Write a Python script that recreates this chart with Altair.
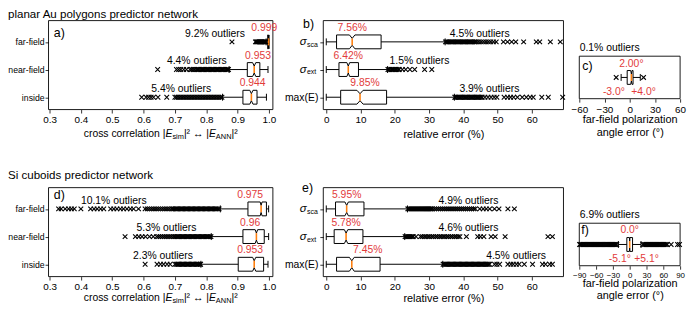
import altair as alt
import pandas as pd

FONT = "Liberation Sans"
RED = "#e23b3b"
ORANGE = "#ff7f0e"
INK = "black"
W, H = 689, 299
XSHAPE = "M-1,-1L1,1M-1,1L1,-1"

# ---------------- shared categories / ticks ----------------
ROW_POS = [3, 2, 1]
FIELD_ROWS = ["far-field", "near-field", "inside"]
ERR_SUBS = ["sca", "ext"]
CC_TICKS = [0.3, 0.4, 0.5, 0.6, 0.7, 0.8, 0.9, 1.0]
ERR_TICKS = [0, 10, 20, 30, 40, 50, 60]
ANG_TICKS_C = [-60, -30, 0, 30, 60]
ANG_TICKS_F = [-90, -60, -30, 0, 30, 60, 90]
CC_DOMAIN = [0.2968, 1.0126]
ERR_DOMAIN = [-0.87, 69.23]
ROW_DOMAIN = [0.554, 3.768]
ANG_DOMAIN_C = [-60, 60]
ANG_DOMAIN_F = [-90, 90]
ONE_DOMAIN = [0, 1]

# ---------------- panel a: planar Au, cross correlation ----------------
A_WLO = [0.991, 0.873, 0.852]
A_Q1 = [0.996, 0.931, 0.917]
A_MED = [0.999, 0.953, 0.944]
A_Q3 = [1.000, 0.971, 0.962]
A_WHI = [1.000, 0.997, 0.992]
A_NOTCH = [0.001, 0.005, 0.005]
A_MED_TXT = ["0.999", "0.953", "0.944"]
A_MED_TXT_X = [0.985, 0.965, 0.948]
A_OUT_TXT = ["9.2% outliers", "4.4% outliers", "5.4% outliers"]
A_OUT_TXT_X = [0.828, 0.770, 0.720]
A_OUT_FAR = [0.882, 0.957, 0.9595, 0.962, 0.9645, 0.967, 0.9695, 0.972, 0.974, 0.976,
             0.978, 0.980, 0.982, 0.984, 0.986, 0.988, 0.990]
A_OUT_NEAR = [0.645, 0.705, 0.712, 0.719, 0.728, 0.737, 0.748, 0.753, 0.758, 0.763, 0.768,
              0.772, 0.776, 0.780, 0.784, 0.788, 0.792, 0.796, 0.800, 0.804, 0.808, 0.812,
              0.816, 0.820, 0.824, 0.828, 0.832, 0.836, 0.840, 0.844, 0.848, 0.852, 0.856,
              0.860, 0.864, 0.868, 0.871]
A_OUT_IN = [0.594, 0.608, 0.616, 0.624, 0.632, 0.646, 0.674, 0.700, 0.705, 0.710, 0.715,
            0.720, 0.725, 0.730, 0.735, 0.740, 0.745, 0.750, 0.755, 0.760, 0.765, 0.770,
            0.775, 0.780, 0.785, 0.790, 0.795, 0.800, 0.805, 0.810, 0.815, 0.820, 0.825,
            0.830, 0.835, 0.840, 0.845, 0.850]

# ---------------- panel b: planar Au, relative error ----------------
B_WLO = [0.0, 0.0, 0.0]
B_Q1 = [3.0, 3.7, 4.2]
B_MED = [7.56, 6.42, 9.85]
B_Q3 = [16.0, 9.4, 17.6]
B_WHI = [34.7, 17.9, 37.4]
B_NOTCH = [0.8, 0.4, 0.9]
B_MED_TXT = ["7.56%", "6.42%", "9.85%"]
B_MED_TXT_X = [7.56, 6.42, 11.3]
B_OUT_TXT = ["4.5% outliers", "1.5% outliers", "3.9% outliers"]
B_OUT_TXT_X = [44.8, 27.2, 47.6]
B_OUT_SCA = [34.8, 35.1, 35.5, 35.8, 36.2, 36.5, 36.9, 37.2, 37.6, 37.9, 38.3, 38.6, 39.0,
             39.3, 39.7, 40.0, 40.4, 40.7, 41.1, 41.4, 41.8, 42.1, 42.5, 42.8, 43.2, 43.5,
             43.9, 44.5, 45.2, 45.9, 46.6, 47.3, 48.0, 48.8, 49.6, 51.7, 52.9, 54.1, 55.3,
             57.6, 61.3, 62.3, 65.4, 68.3]
B_OUT_EXT = [18.0, 18.3, 18.6, 19.0, 19.3, 19.6, 20.0, 20.3, 20.6, 21.0, 21.3, 22.2, 23.2,
             24.4, 25.8, 28.7, 30.8]
B_OUT_MAX = [37.5, 37.8, 38.2, 38.5, 38.9, 39.2, 39.6, 39.9, 40.3, 40.6, 41.0, 41.3, 41.7,
             42.0, 42.4, 42.7, 43.1, 43.4, 43.8, 44.1, 44.5, 44.8, 45.2, 45.5, 46.3, 47.2,
             48.1, 49.0, 49.8, 51.9, 52.9, 53.8, 54.7, 55.8, 57.2, 58.4, 59.5, 60.4, 62.9,
             64.8, 69.0]

# ---------------- panel c: planar Au, polarization angle ----------------
C_STATS = dict(wlo=[-10.2], q1=[-3.0], med=[2.0], q3=[4.0], whi=[12.6], notch=[0.8])
C_OUT = [-16.1, 16.5]
C_MED_TXT = "2.00°"
C_Q_TXT = ["-3.0°", "+4.0°"]
C_Q_TXT_X = [-18.8, 16.5]
C_OUT_TXT = "0.1% outliers"

# ---------------- panel d: Si cuboids, cross correlation ----------------
D_WLO = [0.845, 0.816, 0.783]
D_Q1 = [0.933, 0.917, 0.902]
D_MED = [0.975, 0.960, 0.953]
D_Q3 = [0.992, 0.985, 0.983]
D_WHI = [0.999, 0.999, 0.997]
D_NOTCH = [0.003, 0.004, 0.005]
D_MED_TXT = ["0.975", "0.96", "0.953"]
D_MED_TXT_X = [0.940, 0.940, 0.940]
D_OUT_TXT = ["10.1% outliers", "5.3% outliers", "2.3% outliers"]
D_OUT_TXT_X = [0.505, 0.673, 0.662]
D_OUT_FAR = [0.329, 0.337, 0.350, 0.361, 0.370, 0.379, 0.400, 0.431, 0.442, 0.452, 0.463,
             0.473, 0.495, 0.505, 0.515, 0.526, 0.536, 0.547, 0.558, 0.568, 0.584, 0.605,
             0.612, 0.619, 0.626, 0.633, 0.640, 0.647, 0.654, 0.661, 0.668, 0.675, 0.682,
             0.689, 0.693, 0.697, 0.701, 0.705, 0.709, 0.713, 0.717, 0.721, 0.725, 0.729,
             0.733, 0.737, 0.741, 0.745, 0.749, 0.753, 0.757, 0.761, 0.765, 0.769, 0.773,
             0.777, 0.781, 0.785, 0.789, 0.793, 0.797, 0.801, 0.805, 0.809, 0.813, 0.817,
             0.821, 0.825, 0.829, 0.833, 0.837, 0.841]
D_OUT_NEAR = [0.541, 0.574, 0.585, 0.595, 0.606, 0.619, 0.631, 0.642, 0.648, 0.654, 0.660,
              0.666, 0.672, 0.678, 0.684, 0.690, 0.696, 0.700, 0.704, 0.708, 0.712, 0.716,
              0.720, 0.724, 0.728, 0.732, 0.736, 0.740, 0.744, 0.748, 0.752, 0.756, 0.760,
              0.764, 0.768, 0.772, 0.776, 0.780, 0.784, 0.788, 0.792, 0.796, 0.800, 0.804,
              0.808, 0.812, 0.815]
D_OUT_IN = [0.605, 0.643, 0.654, 0.664, 0.675, 0.685, 0.700, 0.704, 0.708, 0.712, 0.716,
            0.720, 0.724, 0.728, 0.732, 0.736, 0.740, 0.744, 0.748, 0.752, 0.756, 0.760,
            0.764, 0.768, 0.772, 0.776, 0.780, 0.782]

# ---------------- panel e: Si cuboids, relative error ----------------
E_WLO = [0.0, 0.0, 0.0]
E_Q1 = [2.7, 2.3, 3.0]
E_MED = [5.95, 5.78, 7.45]
E_Q3 = [11.0, 10.7, 15.7]
E_WHI = [23.7, 22.9, 34.0]
E_NOTCH = [0.5, 0.5, 0.7]
E_MED_TXT = ["5.95%", "5.78%", "7.45%"]
E_MED_TXT_X = [5.95, 5.78, 12.1]
E_OUT_TXT = ["4.9% outliers", "4.6% outliers", "4.5% outliers"]
E_OUT_TXT_X = [41.5, 41.5, 55.4]
E_OUT_SCA = [23.8, 24.1, 24.4, 24.7, 25.0, 25.3, 25.6, 25.9, 26.2, 26.5, 26.8, 27.1, 27.4,
             27.7, 28.0, 28.3, 28.6, 28.9, 29.2, 29.5, 29.8, 30.1, 30.4, 30.7, 31.0, 31.6,
             32.2, 32.8, 33.4, 34.0, 34.6, 35.2, 35.8, 36.4, 37.0, 37.6, 38.2, 38.8, 39.4,
             40.0, 40.6, 41.2, 41.8, 42.4, 43.0, 43.5, 44.8, 45.8, 46.7, 47.7, 49.1, 50.4,
             53.0, 54.9]
E_OUT_EXT = [23.0, 23.3, 23.6, 23.9, 24.2, 24.5, 24.8, 25.1, 25.4, 26.2, 27.5, 28.0, 28.6,
             29.1, 29.7, 30.2, 30.8, 31.3, 31.9, 32.4, 33.0, 33.5, 34.1, 34.6, 35.2, 35.7,
             36.3, 36.8, 37.4, 37.9, 38.5, 39.0, 40.9, 44.2, 45.0, 46.0, 48.1, 49.3, 52.2,
             64.7, 66.0]
E_OUT_MAX = [34.1, 34.45, 34.8, 35.15, 35.5, 35.85, 36.2, 36.55, 36.9, 37.25, 37.6, 37.95,
             38.3, 38.65, 39.0, 39.35, 39.7, 40.05, 40.4, 40.75, 41.1, 41.45, 41.8, 42.15,
             42.5, 42.85, 43.2, 43.55, 43.9, 44.25, 44.6, 44.95, 45.3, 45.65, 46.0, 46.35,
             46.7, 47.05, 47.4, 47.7, 49.1, 49.8, 50.6, 53.0, 53.9, 54.6, 55.5, 56.3, 57.8,
             60.2, 63.1, 64.0, 65.2, 66.0]

# ---------------- panel f: Si cuboids, polarization angle ----------------
F_STATS = dict(wlo=[-20.2], q1=[-5.1], med=[0.0], q3=[5.1], whi=[20.2], notch=[0.5])
F_OUT = [-89.5, -87.6, -85.7, -83.8, -81.9, -80.0, -78.1, -76.2, -74.3, -72.4, -70.5, -68.6,
         -66.7, -64.8, -62.9, -61.0, -59.1, -57.2, -55.3, -53.4, -51.5, -49.6, -47.7, -45.8,
         -43.9, -42.0, -40.1, -38.2, -36.3, -34.4, -32.5, -30.6, -28.7, -26.8, -24.9, -23.0,
         23.4, 25.3, 27.2, 29.1, 31.0, 32.9, 34.8, 36.7, 38.6, 40.5, 42.4, 44.3, 46.2, 48.1,
         50.0, 51.9, 53.8, 55.7, 57.6, 59.5, 61.4, 63.3, 65.2, 67.1, 74.0, 85.5, 89.0]
F_MED_TXT = "0.0°"
F_Q_TXT = ["-5.1°", "+5.1°"]
F_Q_TXT_X = [-17.6, 30.0]
F_OUT_TXT = "6.9% outliers"

# ---------------- layout (view pixels: left, right, bottom, top) ----------------
BOX_A = (41, 268, 101, 11)
BOX_B = (319, 562, 101, 11)
BOX_C = (578, 680, 90, 47)
BOX_D = (41, 268, 270, 180)
BOX_E = (319, 562, 270, 180)
BOX_F = (578, 680, 259, 216)

ARIAL = {' ': 278, 'c': 500, 'r': 333, 'o': 556, 's': 500, 'l': 222, 'e': 556, 'a': 556,
         't': 278, 'i': 222, 'n': 556, '|': 260, 'E': 667, 'm': 833, 'A': 667, 'N': 722,
         '\u00b2': 333, '\u2194': 1000}


def text_width(s, size):
    return sum(ARIAL.get(ch, 556) for ch in s) * size / 1000.0


def x_axis(ticks, box, fmt=None, expr=None, title="", pad=4, line_h=13, label_size=10):
    kw = dict(orient="bottom", offset=box[2] - H, values=ticks, domain=False, grid=False,
              tickSize=3.5, tickWidth=0.8, tickColor=INK, labelFont=FONT,
              labelFontSize=label_size, labelColor=INK, labelPadding=2, labelFlush=False,
              labelOverlap=False, title=title, titleFont=FONT, titleFontSize=11,
              titleFontWeight="normal", titleColor=INK, titlePadding=pad,
              titleLineHeight=line_h)
    if fmt:
        kw["format"] = fmt
    if expr:
        kw["labelExpr"] = expr
    return alt.Axis(**kw)


def y_axis(box, expr, size, pad):
    return alt.Axis(orient="left", offset=-box[0], values=[1, 2, 3], domain=False, grid=False,
                    tickSize=3.5, tickWidth=0.8, tickColor=INK, labelFont=FONT,
                    labelFontSize=size, labelColor=INK, labelPadding=pad, labelOverlap=False,
                    title="", labelExpr=expr)


def box_panel(box, xdom, ydom, xaxis, yaxis, pos, wlo, q1, med, q3, whi, notch, half,
              outliers, notes, sigma_x=None):
    xs = alt.Scale(domain=xdom, range=[box[0], box[1]], nice=False, zero=False)
    ys = alt.Scale(domain=ydom, range=[box[2], box[3]], nice=False, zero=False)

    def X(f):
        return alt.X(f, type="quantitative", scale=xs, axis=xaxis)

    def Y(f):
        return alt.Y(f, type="quantitative", scale=ys, axis=yaxis)

    layers = []
    frame = pd.DataFrame({"fx": [xdom[0]], "fx2": [xdom[1]], "fy": [ydom[0]], "fy2": [ydom[1]]})
    layers.append(alt.Chart(frame).mark_rect(fillOpacity=0, stroke=INK, strokeWidth=0.9)
                  .encode(x=X("fx"), x2="fx2", y=Y("fy"), y2="fy2"))

    wh, caps, pts, meds = [], [], [], []
    for i, p in enumerate(pos):
        lo, hi = p - half, p + half
        n = notch[i]
        wh += [{"wx": q1[i], "wx2": wlo[i], "wy": p}, {"wx": q3[i], "wx2": whi[i], "wy": p}]
        caps += [{"cx": wlo[i], "cy": p - half / 2, "cy2": p + half / 2},
                 {"cx": whi[i], "cy": p - half / 2, "cy2": p + half / 2}]
        seq = [(q1[i], lo), (med[i] - n, lo), (med[i], p - half / 2), (med[i] + n, lo),
               (q3[i], lo), (q3[i], hi), (med[i] + n, hi), (med[i], p + half / 2),
               (med[i] - n, hi), (q1[i], hi), (q1[i], lo)]
        for k, (bx, by) in enumerate(seq):
            pts.append({"bx": bx, "by": by, "k": k, "row": i})
        meds.append({"mx": med[i], "my": p - half / 2, "my2": p + half / 2})

    layers.append(alt.Chart(pd.DataFrame(wh)).mark_rule(color=INK, strokeWidth=1)
                  .encode(x=X("wx"), x2="wx2", y=Y("wy")))
    layers.append(alt.Chart(pd.DataFrame(caps)).mark_rule(color=INK, strokeWidth=1)
                  .encode(x=X("cx"), y=Y("cy"), y2="cy2"))
    layers.append(alt.Chart(pd.DataFrame(pts)).mark_line(color=INK, strokeWidth=1)
                  .encode(x=X("bx"), y=Y("by"), order="k:Q", detail="row:N"))
    layers.append(alt.Chart(pd.DataFrame(meds)).mark_rule(color=ORANGE, strokeWidth=1.6)
                  .encode(x=X("mx"), y=Y("my"), y2="my2"))

    odf = pd.DataFrame([{"ox": v, "oy": p} for vals, p in zip(outliers, pos) for v in vals])
    layers.append(alt.Chart(odf).mark_point(shape=XSHAPE, size=22, filled=False, color=INK,
                                            strokeWidth=1.1, opacity=1)
                  .encode(x=X("ox"), y=Y("oy")))

    for (nx, ny, nt, nc, na) in notes:
        layers.append(alt.Chart(pd.DataFrame({"nx": [nx], "ny": [ny], "nt": [nt]}))
                      .mark_text(align=na, baseline="middle", font=FONT, fontSize=10.5, color=nc)
                      .encode(x=X("nx"), y=Y("ny"), text="nt:N"))

    if sigma_x is not None:
        sdf = pd.DataFrame({"sy": ROW_POS[:2], "sub": ERR_SUBS, "sig": ["\u03c3", "\u03c3"]})
        layers.append(alt.Chart(sdf).mark_text(align="right", baseline="middle", font=FONT,
                                               fontSize=11.5, fontStyle="italic", color=INK)
                      .encode(x=alt.value(sigma_x), y=Y("sy"), text="sig:N"))
        layers.append(alt.Chart(sdf).mark_text(align="left", baseline="middle", font=FONT,
                                               fontSize=7, color=INK, dy=3)
                      .encode(x=alt.value(sigma_x + 0.5), y=Y("sy"), text="sub:N"))
    return alt.layer(*layers)


def label(text, x, y, size, align="left", baseline="middle", style="normal", dy=0):
    return (alt.Chart(pd.DataFrame({"t": [text]}))
            .mark_text(align=align, baseline=baseline, font=FONT, fontSize=size,
                       fontStyle=style, color=INK, dy=dy)
            .encode(x=alt.value(x), y=alt.value(y), text="t:N"))


def cc_title(box, y):
    pieces = [("cross correlation |", "normal", 10.5, 0), ("E", "italic", 10.5, 0),
              ("sim", "normal", 7.5, 3), ("|\u00b2 \u2194 |", "normal", 10.5, 0),
              ("E", "italic", 10.5, 0), ("ANN", "normal", 7.5, 3), ("|\u00b2", "normal", 10.5, 0)]
    total = sum(text_width(t, s) for t, _, s, _ in pieces)
    x = (box[0] + box[1]) / 2 - total / 2
    out = []
    for t, st, s, dy in pieces:
        out.append(label(t, x, y, s, style=st, dy=dy))
        x += text_width(t, s)
    return out


def notes_rows(pos, med_x, med_t, out_x, out_t):
    n = []
    for i, p in enumerate(pos):
        n.append((med_x[i], p + 0.5, med_t[i], RED, "center"))
        n.append((out_x[i], p + 0.3, out_t[i], INK, "center"))
    return n


FIELD_EXPR = ("datum.value == 3 ? '%s' : datum.value == 2 ? '%s' : datum.value == 1 ? '%s' : ''"
              % tuple(FIELD_ROWS))
ERR_EXPR = "datum.value == 1 ? 'max(E)' : ''"
MINUS_EXPR = "replace(datum.label, '-', '\u2212')"
HALF = 0.25
HALF_ANG = 7.0 / 43.0
ANG_TITLE = ["far-field polarization", "angle error (°)"]

pa = box_panel(BOX_A, CC_DOMAIN, ROW_DOMAIN, x_axis(CC_TICKS, BOX_A, fmt=".1f"),
               y_axis(BOX_A, FIELD_EXPR, 8.8, 1), ROW_POS, A_WLO, A_Q1, A_MED, A_Q3,
               A_WHI, A_NOTCH, HALF, [A_OUT_FAR, A_OUT_NEAR, A_OUT_IN],
               notes_rows(ROW_POS, A_MED_TXT_X, A_MED_TXT, A_OUT_TXT_X, A_OUT_TXT))
pb = box_panel(BOX_B, ERR_DOMAIN, ROW_DOMAIN,
               x_axis(ERR_TICKS, BOX_B, title="relative error (%)", pad=4),
               y_axis(BOX_B, ERR_EXPR, 10.5, 2), ROW_POS, B_WLO, B_Q1, B_MED, B_Q3, B_WHI,
               B_NOTCH, HALF, [B_OUT_SCA, B_OUT_EXT, B_OUT_MAX],
               notes_rows(ROW_POS, B_MED_TXT_X, B_MED_TXT, B_OUT_TXT_X, B_OUT_TXT),
               sigma_x=BOX_B[0] - 17)
pc = box_panel(BOX_C, ANG_DOMAIN_C, ONE_DOMAIN,
               x_axis(ANG_TICKS_C, BOX_C, expr=MINUS_EXPR, title=ANG_TITLE, pad=0),
               None, [0.5], C_STATS["wlo"], C_STATS["q1"], C_STATS["med"], C_STATS["q3"],
               C_STATS["whi"], C_STATS["notch"], HALF_ANG, [C_OUT],
               [(C_STATS["med"][0], 0.81, C_MED_TXT, RED, "center"),
                (C_Q_TXT_X[0], 0.16, C_Q_TXT[0], RED, "center"),
                (C_Q_TXT_X[1], 0.16, C_Q_TXT[1], RED, "center"),
                (-59.5, 1.19, C_OUT_TXT, INK, "left")])
pd_ = box_panel(BOX_D, CC_DOMAIN, ROW_DOMAIN, x_axis(CC_TICKS, BOX_D, fmt=".1f"),
                y_axis(BOX_D, FIELD_EXPR, 8.8, 1), ROW_POS, D_WLO, D_Q1, D_MED, D_Q3,
                D_WHI, D_NOTCH, HALF, [D_OUT_FAR, D_OUT_NEAR, D_OUT_IN],
                notes_rows(ROW_POS, D_MED_TXT_X, D_MED_TXT, D_OUT_TXT_X, D_OUT_TXT))
pe = box_panel(BOX_E, ERR_DOMAIN, ROW_DOMAIN,
               x_axis(ERR_TICKS, BOX_E, title="relative error (%)", pad=1),
               y_axis(BOX_E, ERR_EXPR, 10.5, 2), ROW_POS, E_WLO, E_Q1, E_MED, E_Q3, E_WHI,
               E_NOTCH, HALF, [E_OUT_SCA, E_OUT_EXT, E_OUT_MAX],
               notes_rows(ROW_POS, E_MED_TXT_X, E_MED_TXT, E_OUT_TXT_X, E_OUT_TXT),
               sigma_x=BOX_E[0] - 17)
pf = box_panel(BOX_F, ANG_DOMAIN_F, ONE_DOMAIN,
               x_axis(ANG_TICKS_F, BOX_F, expr=MINUS_EXPR, title=ANG_TITLE, pad=-1,
                      line_h=12, label_size=8),
               None, [0.5], F_STATS["wlo"], F_STATS["q1"], F_STATS["med"], F_STATS["q3"],
               F_STATS["whi"], F_STATS["notch"], HALF_ANG, [F_OUT],
               [(F_STATS["med"][0], 0.84, F_MED_TXT, RED, "center"),
                (F_Q_TXT_X[0], 0.163, F_Q_TXT[0], RED, "center"),
                (F_Q_TXT_X[1], 0.163, F_Q_TXT[1], RED, "center"),
                (-89.0, 1.19, F_OUT_TXT, INK, "left")])

extras = [
    label("planar Au polygons predictor network", 0, -1, 11.7, baseline="top"),
    label("Si cuboids predictor network", 0, 167, 11.7),
    label("a)", 46.3, 23.7, 12.5), label("b)", 298.5, 14.8, 12.5), label("c)", 581, 57, 12.5),
    label("d)", 46.3, 187, 12.5), label("e)", 297.5, 180.3, 12.5), label("f)", 580, 223, 12.5),
] + cc_title(BOX_A, 126) + cc_title(BOX_D, 292)

chart = (alt.layer(pa, pb, pc, pd_, pe, pf, *extras)
         .resolve_scale(x="independent", y="independent")
         .properties(width=W, height=H, padding=0,
                     autosize=alt.AutoSizeParams(type="none"))
         .configure(font=FONT)
         .configure_view(stroke=None))

chart.save("out.html", embed_options={"renderer": "svg", "actions": False})
